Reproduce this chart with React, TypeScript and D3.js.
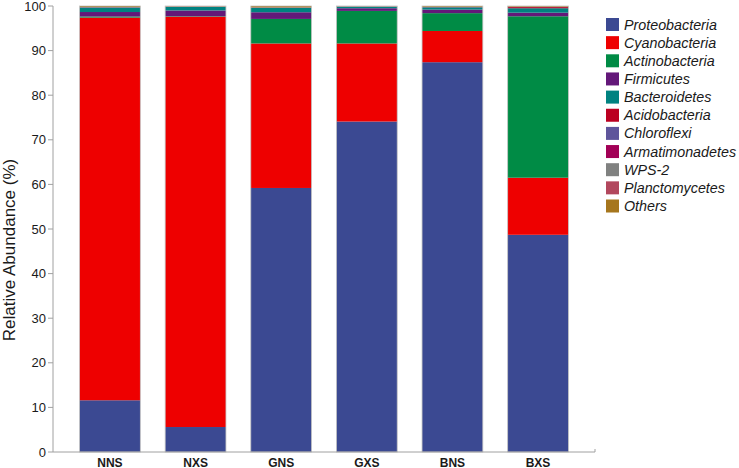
import * as d3 from "d3";

const samples = ["NNS", "NXS", "GNS", "GXS", "BNS", "BXS"];
const phyla = [
  "Proteobacteria",
  "Cyanobacteria",
  "Actinobacteria",
  "Firmicutes",
  "Bacteroidetes",
  "Acidobacteria",
  "Chloroflexi",
  "Armatimonadetes",
  "WPS-2",
  "Planctomycetes",
  "Others",
];
const colors = [
  "#3b4992",
  "#ee0000",
  "#008b45",
  "#631879",
  "#008280",
  "#bb0021",
  "#5f559b",
  "#a20056",
  "#808180",
  "#b2475d",
  "#a6761d",
];

// abundance per sample, one array per phylum (same order as samples)
const proteobacteria = [11.6, 5.6, 59.2, 74.1, 87.4, 48.7];
const cyanobacteria = [85.8, 92.0, 32.4, 17.5, 7.0, 12.8];
const actinobacteria = [0.25, 0.1, 5.5, 7.3, 4.0, 36.2];
const firmicutes = [1.0, 1.3, 1.5, 0.6, 0.8, 0.8];
const bacteroidetes = [1.0, 0.8, 1.0, 0.35, 0.5, 1.0];
const acidobacteria = [0.03, 0.03, 0.03, 0.02, 0.03, 0.25];
const chloroflexi = [0.03, 0.03, 0.03, 0.02, 0.03, 0.02];
const armatimonadetes = [0.02, 0.02, 0.02, 0.02, 0.02, 0.02];
const wps2 = [0.02, 0.02, 0.01, 0.02, 0.01, 0.02];
const planctomycetes = [0.02, 0.02, 0.01, 0.02, 0.01, 0.02];
const others = [0.23, 0.08, 0.3, 0.05, 0.2, 0.17];

const series = [
  proteobacteria,
  cyanobacteria,
  actinobacteria,
  firmicutes,
  bacteroidetes,
  acidobacteria,
  chloroflexi,
  armatimonadetes,
  wps2,
  planctomycetes,
  others,
];

const yTicks = [0, 10, 20, 30, 40, 50, 60, 70, 80, 90, 100];

export default function App() {
  const width = 739,
    height = 468,
    axisLeft = 53,
    axisRight = 595,
    plotTop = 6,
    plotBottom = 452,
    tickLen = 5,
    legendX = 606,
    legendY = 24.5,
    legendStep = 18.15,
    legendBox = 13;

  const rows = samples.map((s, i) => {
    const row: any = { sample: s };
    phyla.forEach((p, j) => (row[p] = series[j][i]));
    return row;
  });

  const stacked = d3.stack().keys(phyla)(rows);

  const xScale = d3
    .scaleBand()
    .domain(samples)
    .range([axisLeft, axisRight])
    .paddingInner(0.29)
    .paddingOuter(0.31);

  const yScale = d3.scaleLinear().domain([0, 100]).range([plotBottom, plotTop]);

  const font = "Liberation Sans, Arial, Helvetica, sans-serif";

  return (
    <svg
      width={width}
      height={height}
      style={{ position: "absolute", left: 0, top: 0 }}
      fontFamily={font}
    >
      <rect width={width} height={height} fill="white" />
      {stacked.map((layer, j) => (
        <g key={phyla[j]} fill={colors[j]}>
          {layer.map((d, i) => (
            <rect
              key={samples[i]}
              x={xScale(samples[i])}
              y={yScale(d[1])}
              width={xScale.bandwidth()}
              height={Math.max(0, yScale(d[0]) - yScale(d[1]))}
            />
          ))}
        </g>
      ))}
      {samples.map((s, i) => {
        const top = stacked[stacked.length - 1][i][1];
        return (
          <rect
            key={s}
            x={xScale(s)}
            y={yScale(top)}
            width={xScale.bandwidth()}
            height={yScale(0) - yScale(top)}
            fill="none"
            stroke="#c4c4c4"
            strokeWidth={0.8}
          />
        );
      })}

      {/* y axis */}
      <line
        x1={axisLeft}
        x2={axisLeft}
        y1={plotTop}
        y2={plotBottom}
        stroke="#a0a0a0"
      />
      {yTicks.map((t) => (
        <g key={t}>
          <line
            x1={axisLeft - tickLen}
            x2={axisLeft}
            y1={yScale(t)}
            y2={yScale(t)}
            stroke="#a0a0a0"
          />
          <text
            x={axisLeft - tickLen - 2}
            y={yScale(t)}
            textAnchor="end"
            dominantBaseline="central"
            fontSize={13}
            fill="#1a1a1a"
          >
            {t}
          </text>
        </g>
      ))}
      <text
        transform={`translate(15 250) rotate(-90)`}
        textAnchor="middle"
        fontSize={17}
        fill="#1a1a1a"
      >
        Relative Abundance (%)
      </text>

      {/* x axis */}
      <line
        x1={axisLeft}
        x2={axisRight}
        y1={plotBottom}
        y2={plotBottom}
        stroke="#a0a0a0"
      />
      <line
        x1={axisRight}
        x2={axisRight}
        y1={plotBottom - 3}
        y2={plotBottom}
        stroke="#a0a0a0"
      />
      {samples.map((s) => (
        <text
          key={s}
          x={(xScale(s) as number) + xScale.bandwidth() / 2}
          y={462.5}
          textAnchor="middle"
          dominantBaseline="central"
          fontSize={12}
          fontWeight="bold"
          fill="#1a1a1a"
        >
          {s}
        </text>
      ))}

      {/* legend */}
      {phyla.map((p, j) => (
        <g key={p} transform={`translate(${legendX} ${legendY + j * legendStep})`}>
          <rect
            x={0}
            y={-legendBox / 2}
            width={legendBox}
            height={legendBox}
            fill={colors[j]}
          />
          <text
            x={legendBox + 5}
            y={0}
            dominantBaseline="central"
            fontSize={14.3}
            fontStyle="italic"
            fill="#1a1a1a"
          >
            {p}
          </text>
        </g>
      ))}
    </svg>
  );
}
